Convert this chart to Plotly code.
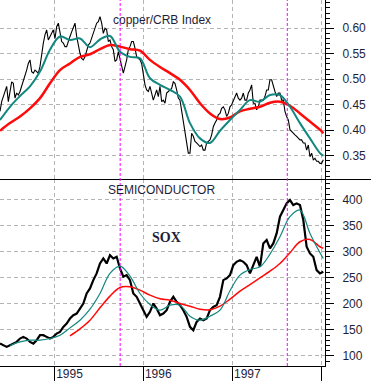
import pandas as pd
import plotly.graph_objects as go
from plotly.subplots import make_subplots

# ---- data ----
start_date = "1994-05-22"
end_date = "1998-01-10"
axis_end = "1998-01-17"

copper_crb = [0.437, 0.456, 0.466, 0.479, 0.486, 0.456, 0.473, 0.495, 0.492, 0.463,
              0.473, 0.469, 0.476, 0.486, 0.499, 0.505, 0.518, 0.531, 0.538, 0.515,
              0.512, 0.518, 0.515, 0.512, 0.525, 0.551, 0.571, 0.587, 0.597, 0.577,
              0.584, 0.590, 0.597, 0.580, 0.603, 0.610, 0.587, 0.574, 0.571, 0.564,
              0.564, 0.577, 0.584, 0.593, 0.603, 0.610, 0.584, 0.564, 0.551, 0.541,
              0.538, 0.544, 0.558, 0.567, 0.571, 0.580, 0.590, 0.597, 0.610, 0.613,
              0.623, 0.610, 0.590, 0.600, 0.597, 0.574, 0.577, 0.564, 0.558, 0.535,
              0.538, 0.554, 0.538, 0.522, 0.512, 0.525, 0.538, 0.558, 0.564, 0.574,
              0.574, 0.561, 0.544, 0.541, 0.538, 0.531, 0.505, 0.489, 0.479, 0.476,
              0.486, 0.469, 0.459, 0.469, 0.479, 0.466, 0.486, 0.456, 0.459,
              0.453, 0.473, 0.476, 0.479, 0.482, 0.495, 0.492, 0.479, 0.463, 0.459,
              0.437, 0.420, 0.394, 0.375, 0.355, 0.355, 0.394, 0.388, 0.378, 0.375,
              0.371, 0.368, 0.371, 0.361, 0.361, 0.375, 0.378, 0.381, 0.391, 0.407,
              0.414, 0.420, 0.430, 0.433, 0.443, 0.446, 0.440, 0.427, 0.433, 0.446,
              0.450, 0.459, 0.466, 0.473, 0.463, 0.459, 0.463, 0.473, 0.459, 0.459,
              0.473, 0.479, 0.489, 0.453, 0.453, 0.440, 0.446, 0.459, 0.459, 0.459,
              0.466, 0.479, 0.479, 0.499, 0.499, 0.486, 0.476, 0.466, 0.473, 0.473,
              0.459, 0.459, 0.437, 0.427, 0.420, 0.401, 0.397, 0.394, 0.391, 0.388,
              0.384, 0.381, 0.381, 0.375, 0.375, 0.361, 0.371, 0.348, 0.355, 0.342,
              0.345, 0.339, 0.339, 0.335, 0.335, 0.342]

copper_ma_short = [0.420, 0.446, 0.467, 0.486, 0.515, 0.558, 0.584, 0.577, 0.580, 0.563,
                   0.578, 0.585, 0.554, 0.544, 0.541, 0.502, 0.489,
                   0.479, 0.466, 0.414, 0.384, 0.375, 0.399, 0.420, 0.440, 0.459,
                   0.456, 0.469, 0.469, 0.446, 0.414, 0.384, 0.355, 0.350]

copper_ma_long = [0.399, 0.414, 0.427, 0.443, 0.463, 0.492, 0.518, 0.531, 0.544, 0.549,
                  0.559, 0.567, 0.564, 0.559, 0.556, 0.538, 0.524,
                  0.512, 0.499, 0.479, 0.453, 0.433, 0.422, 0.425, 0.437, 0.442,
                  0.446, 0.454, 0.456, 0.448, 0.433, 0.417, 0.401, 0.394]

sox = [123.8, 120.6, 117.4, 120.6, 123.8, 127.0, 133.4, 136.6, 133.4, 127.0,
       123.8, 130.2, 139.8, 139.8, 136.6, 133.4, 136.6, 143.0, 146.2, 155.7,
       162.1, 171.7, 178.1, 181.3, 190.9, 200.5, 219.7, 229.3, 245.3, 258.1,
       277.2, 286.8, 277.2, 293.2, 286.8, 290.0, 267.6, 251.7, 254.9, 245.3,
       219.7, 213.3, 200.5, 187.7, 174.9, 184.5, 200.5, 190.9, 178.1, 181.3,
       187.7, 203.7, 213.3, 203.7, 197.3, 187.7, 174.9, 155.7, 149.3, 165.3,
       171.7, 168.5, 171.7, 187.7, 194.1, 197.3, 213.3, 245.3, 248.5, 254.9,
       274.0, 280.4, 283.6, 280.4, 274.0, 258.1, 274.0, 290.0, 270.8, 315.6,
       322.0, 306.0, 315.6, 334.8, 366.8, 379.5, 392.3, 398.7, 389.1, 392.3,
       389.1, 360.4, 309.2, 296.4, 290.0, 264.4, 258.1, 261.3]

sox_ma_short = [None, 120.0, 127.0, 130.2, 130.2, 133.4, 139.8, 153.8, 168.5, 189.6,
                219.7, 258.1, 272.1, 252.9, 219.7, 198.6, 187.7,
                197.3, 197.3, 176.2, 168.5, 176.2, 187.7, 224.8, 254.9, 265.7,
                270.8, 295.1, 328.4, 366.8, 379.5, 334.8, 297.7, 286.8]

sox_ma_long = [None, None, None, None, None, None, None, 138.5, 151.9, 168.5,
               192.2, 214.6, 231.2, 232.5, 226.1, 216.5, 209.5,
               206.9, 200.5, 195.4, 189.6, 188.4, 195.4, 208.8, 224.2, 236.9,
               249.7, 262.5, 277.2, 297.7, 318.8, 323.3, 309.2, 306.0]

event_dates = ["1995-09-28", "1997-08-15"]
year_ticks = ["1995-01-01", "1996-01-01", "1997-01-01", "1998-01-01"]
year_labels = ["1995", "1996", "1997", ""]
copper_ticks = [0.35, 0.40, 0.45, 0.50, 0.55, 0.60]
copper_labels = ["0.35", "0.40", "0.45", "0.50", "0.55", "0.60"]
sox_ticks = [100, 150, 200, 250, 300, 350, 400]
sox_labels = ["100", "150", "200", "250", "300", "350", "400"]

# ---- build ----
copper_dates = pd.date_range(start_date, end_date, periods=len(copper_crb))
sox_dates = pd.date_range(start_date, end_date, periods=len(sox))
ma_dates = list(sox_dates[::3]) + [sox_dates[-1]]

TEAL = "#12877f"
RED = "#ff0a0a"
GRID = "#b4b4b4"
TXT = "#1e1e3a"
FONT = "Liberation Sans, Arial, sans-serif"

split = 1 - 179 / 366

fig = make_subplots(rows=2, cols=1, shared_xaxes=True, vertical_spacing=0)

fig.add_trace(go.Scatter(x=copper_dates, y=copper_crb, mode="lines",
                         line=dict(color="black", width=1.1)), row=1, col=1)
fig.add_trace(go.Scatter(x=ma_dates, y=copper_ma_long, mode="lines",
                         line=dict(color=RED, width=2.5, shape="spline")), row=1, col=1)
fig.add_trace(go.Scatter(x=ma_dates, y=copper_ma_short, mode="lines",
                         line=dict(color=TEAL, width=2, shape="spline")), row=1, col=1)

fig.add_trace(go.Scatter(x=sox_dates, y=sox, mode="lines",
                         line=dict(color="black", width=2.2)), row=2, col=1)
fig.add_trace(go.Scatter(x=ma_dates, y=sox_ma_long, mode="lines",
                         line=dict(color=RED, width=1.5, shape="spline")), row=2, col=1)
fig.add_trace(go.Scatter(x=ma_dates, y=sox_ma_short, mode="lines",
                         line=dict(color=TEAL, width=1.2, shape="spline")), row=2, col=1)

common_x = dict(range=[start_date, axis_end], tickmode="array", tickvals=year_ticks,
                showgrid=True, gridcolor=GRID, griddash="4px,3px", gridwidth=1,
                zeroline=False)
fig.update_layout(
    xaxis=dict(**common_x, showticklabels=False, ticks=""),
    xaxis2=dict(**common_x, ticktext=year_labels, ticks="outside", ticklen=15,
                tickcolor="black", showline=True, linecolor="black",
                ticklabelshift=15, ticklabelstandoff=-18,
                tickfont=dict(family=FONT, size=12, color=TXT)),
    yaxis=dict(domain=[split, 1], side="right", range=[0.3043, 0.6555],
               tickmode="array", tickvals=copper_ticks, ticktext=copper_labels,
               ticks="outside", ticklen=8, tickcolor="black",
               showline=True, linecolor="black", showgrid=True, gridcolor=GRID,
               griddash="4px,3px", zeroline=False, ticklabelstandoff=6,
               minor=dict(tickmode="linear", tick0=0, dtick=0.01, ticks="outside",
                          ticklen=4, tickcolor="black", showgrid=False),
               tickfont=dict(family=FONT, size=12, color=TXT)),
    yaxis2=dict(domain=[0, split], side="right", range=[80.8, 439],
                tickmode="array", tickvals=sox_ticks, ticktext=sox_labels,
                ticks="outside", ticklen=8, tickcolor="black",
                showline=True, linecolor="black", showgrid=True, gridcolor=GRID,
                griddash="4px,3px", zeroline=False, ticklabelstandoff=6,
                minor=dict(tickmode="linear", tick0=0, dtick=10, ticks="outside",
                           ticklen=4, tickcolor="black", showgrid=False),
                tickfont=dict(family=FONT, size=12, color=TXT)),
    width=371, height=381, margin=dict(l=0, r=46, t=0, b=15, autoexpand=False),
    paper_bgcolor="white", plot_bgcolor="white", showlegend=False,
)

# separator between panels
sep_y = 1 - 179.5 / 366
fig.add_shape(type="line", xref="paper", yref="paper", x0=0, x1=371 / 325,
              y0=sep_y, y1=sep_y, line=dict(color="black", width=1))

for d in event_dates:
    fig.add_shape(type="line", xref="x", yref="paper", x0=d, x1=d, y0=0, y1=1,
                  line=dict(color="#ff00ff", width=1, dash="3px,2px"))

fig.add_annotation(text="copper/CRB Index", xref="paper", yref="paper",
                   x=162 / 325, y=1 - 11 / 366, showarrow=False,
                   font=dict(family=FONT, size=12, color=TXT))
fig.add_annotation(text="SEMICONDUCTOR", xref="paper", yref="paper",
                   x=161 / 325, y=1 - 190 / 366, showarrow=False,
                   font=dict(family=FONT, size=12, color=TXT))
fig.add_annotation(text="<b>SOX</b>", xref="paper", yref="paper",
                   x=166 / 325, y=1 - 237 / 366, showarrow=False,
                   font=dict(family="Liberation Serif, Times New Roman, serif",
                             size=14, color=TXT))

fig.write_html("out.html", config={"displayModeBar": False},
               post_script="document.body.style.margin='0';")
